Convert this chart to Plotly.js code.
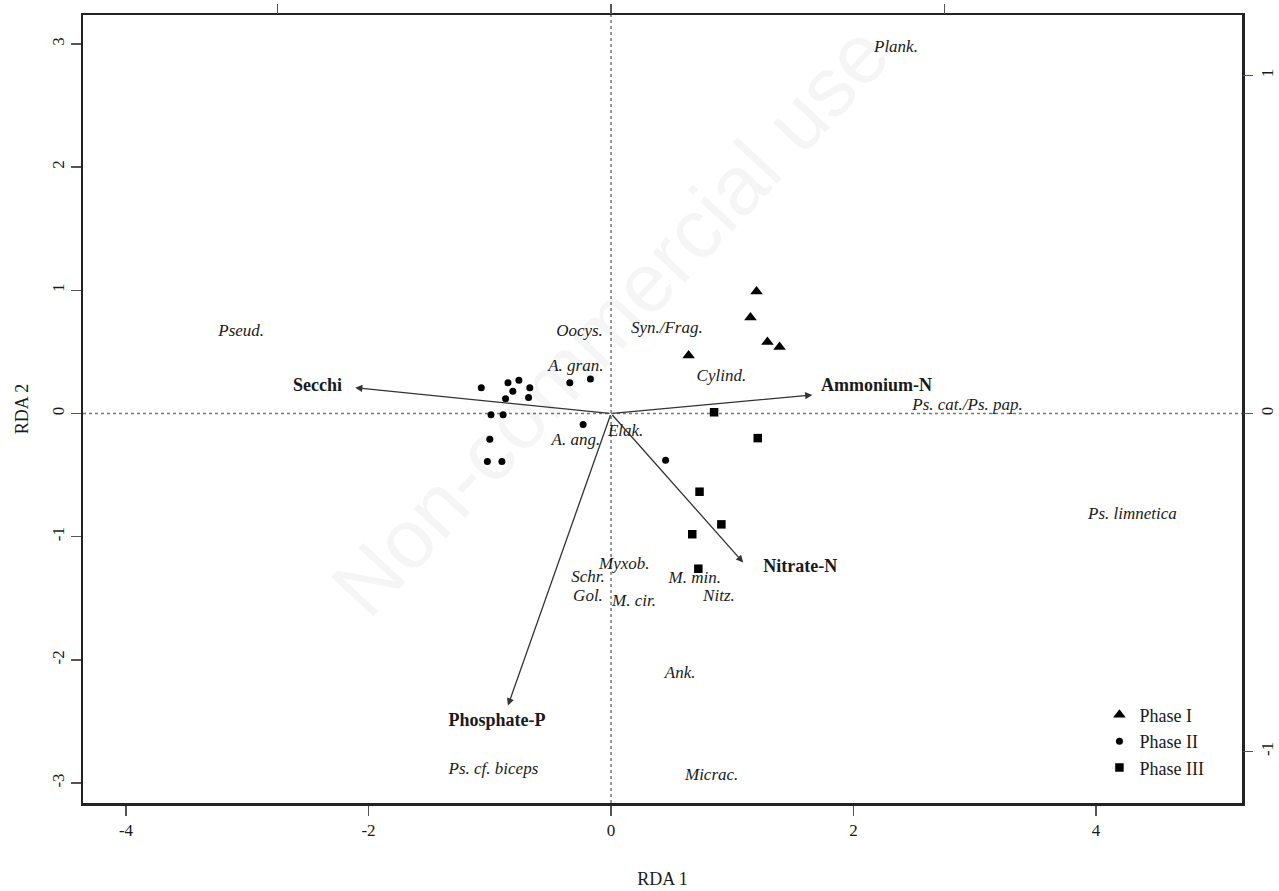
<!DOCTYPE html>
<html>
<head>
<meta charset="utf-8">
<script src="https://cdn.plot.ly/plotly-3.0.1.min.js"></script>
<style>html,body{margin:0;padding:0;background:#fff;}#chart{width:1279px;height:891px;}</style>
</head>
<body>
<div id="chart"></div>
<script>
// ---- Data ----
const phase1X = [1.20, 1.15, 1.29, 1.39, 0.64];
const phase1Y = [0.99, 0.78, 0.58, 0.54, 0.47];

const phase2X = [-1.07, -0.85, -0.76, -0.67, -0.81, -0.87, -0.68, -0.99, -0.89, -1.00, -1.02, -0.90, -0.34, -0.17, -0.23, 0.45];
const phase2Y = [0.21, 0.25, 0.27, 0.21, 0.18, 0.12, 0.13, -0.01, -0.01, -0.21, -0.39, -0.39, 0.25, 0.28, -0.09, -0.38];

const phase3X = [0.85, 1.21, 0.73, 0.91, 0.67, 0.72];
const phase3Y = [0.01, -0.20, -0.635, -0.90, -0.98, -1.26];

const envNames = ['Secchi', 'Ammonium-N', 'Nitrate-N', 'Phosphate-P'];
const envTipX = [-2.11, 1.66, 1.09, -0.85];
const envTipY = [0.21, 0.15, -1.21, -2.37];
const envLabelX = [-2.42, 2.19, 1.56, -0.94];
const envLabelY = [0.22, 0.22, -1.25, -2.50];

const speciesNames = ['Plank.', 'Pseud.', 'Oocys.', 'Syn./Frag.', 'A. gran.', 'Cylind.', 'Ps. cat./Ps. pap.', 'A. ang.', 'Elak.', 'Ps. limnetica', 'Myxob.', 'Schr.', 'M. min.', 'Gol.', 'M. cir.', 'Nitz.', 'Ank.', 'Ps. cf. biceps', 'Micrac.'];
const speciesX = [2.35, -3.05, -0.26, 0.46, -0.29, 0.91, 2.94, -0.29, 0.12, 4.30, 0.11, -0.19, 0.69, -0.19, 0.19, 0.89, 0.57, -0.97, 0.83];
const speciesY = [2.97, 0.66, 0.66, 0.69, 0.38, 0.30, 0.06, -0.22, -0.15, -0.82, -1.23, -1.33, -1.34, -1.49, -1.53, -1.49, -2.11, -2.89, -2.94];

const xTickVals = [-4, -2, 0, 2, 4];
const xTickText = ['-4', '-2', '0', '2', '4'];
const yTickVals = [-3, -2, -1, 0, 1, 2, 3];
const yTickText = ['-3', '-2', '-1', '0', '1', '2', '3'];
const secTickVals = [-1, 0, 1];
const secTickText = ['-1', '0', '1'];

const xRange = [-4.355, 5.204];
const yRange = [-3.162, 3.235];
const secScaleX = 2.75;
const secScaleY = 2.744;

// ---- Styling ----
const serif = 'Liberation Serif, Times New Roman, Times, serif';
const ink = '#1a1a1a';

const traces = [
  {x: phase1X, y: phase1Y, mode: 'markers', type: 'scatter', name: 'Phase I',
   marker: {symbol: 'triangle-up', size: 11, color: '#000'}, hoverinfo: 'skip'},
  {x: phase2X, y: phase2Y, mode: 'markers', type: 'scatter', name: 'Phase II',
   marker: {symbol: 'circle', size: 7, color: '#000'}, hoverinfo: 'skip'},
  {x: phase3X, y: phase3Y, mode: 'markers', type: 'scatter', name: 'Phase III',
   marker: {symbol: 'square', size: 8.5, color: '#000'}, hoverinfo: 'skip'},
  {x: speciesX, y: speciesY, text: speciesNames, mode: 'text', type: 'scatter', showlegend: false,
   textfont: {family: serif, size: 17, style: 'italic', color: ink}, hoverinfo: 'skip'},
  {x: envLabelX, y: envLabelY, text: envNames, mode: 'text', type: 'scatter', showlegend: false,
   textfont: {family: serif, size: 18, weight: 'bold', color: ink}, hoverinfo: 'skip'},
  {x: [], y: [], xaxis: 'x2', yaxis: 'y2', type: 'scatter', mode: 'markers', showlegend: false, hoverinfo: 'skip'}
];

const arrows = envNames.map((n, i) => ({
  x: envTipX[i], y: envTipY[i], ax: 0, ay: 0,
  xref: 'x', yref: 'y', axref: 'x', ayref: 'y',
  text: '', showarrow: true, arrowhead: 2, arrowsize: 1.1, arrowwidth: 1.3,
  arrowcolor: '#333', standoff: 0, startstandoff: 0
}));

const watermark = {
  xref: 'paper', yref: 'paper', x: 0.455, y: 0.613,
  text: 'Non-commercial use', showarrow: false, textangle: -47,
  font: {family: 'Liberation Sans, Arial, sans-serif', size: 84, color: 'rgba(0,0,0,0.04)'}
};

const axisCommon = {
  showgrid: false, zeroline: false, ticks: 'outside', ticklen: 10, tickwidth: 1.5,
  tickcolor: '#555', tickfont: {family: serif, size: 17, color: ink}
};

const layout = {
  width: 1279, height: 891,
  margin: {l: 83, r: 37, t: 15, b: 88, pad: 0},
  paper_bgcolor: '#fff', plot_bgcolor: '#fff',
  showlegend: true,
  legend: {x: 0.877, y: 0.135, xanchor: 'left', yanchor: 'top', bgcolor: 'rgba(0,0,0,0)',
           font: {family: serif, size: 18, color: ink}, tracegroupgap: 0},
  xaxis: Object.assign({}, axisCommon, {
    range: xRange, tickmode: 'array', tickvals: xTickVals, ticktext: xTickText,
    showline: true, linewidth: 2.5, linecolor: '#222', mirror: true,
    title: {text: 'RDA 1', font: {family: serif, size: 18, color: ink}, standoff: 34}
  }),
  yaxis: Object.assign({}, axisCommon, {
    range: yRange, tickmode: 'array', tickvals: yTickVals, ticktext: yTickText, tickangle: -90,
    showline: true, linewidth: 2.5, linecolor: '#222', mirror: true,
    title: {text: 'RDA 2', font: {family: serif, size: 18, color: ink}, standoff: 16}
  }),
  xaxis2: Object.assign({}, axisCommon, {
    overlaying: 'x', side: 'top', range: [xRange[0] / secScaleX, xRange[1] / secScaleX],
    tickmode: 'array', tickvals: secTickVals, showticklabels: false, showline: false
  }),
  yaxis2: Object.assign({}, axisCommon, {
    overlaying: 'y', side: 'right', range: [yRange[0] / secScaleY, yRange[1] / secScaleY],
    tickmode: 'array', tickvals: secTickVals, ticktext: secTickText, tickangle: -90, showline: false
  }),
  shapes: [
    {type: 'line', xref: 'x', yref: 'paper', x0: 0, x1: 0, y0: 0, y1: 1,
     line: {color: '#777', width: 1.5, dash: 'dot'}, layer: 'below'},
    {type: 'line', xref: 'paper', yref: 'y', x0: 0, x1: 1, y0: 0, y1: 0,
     line: {color: '#777', width: 1.5, dash: 'dot'}, layer: 'below'}
  ],
  annotations: [watermark].concat(arrows)
};

Plotly.newPlot('chart', traces, layout, {displayModeBar: false, staticPlot: true});
</script>
</body>
</html>
